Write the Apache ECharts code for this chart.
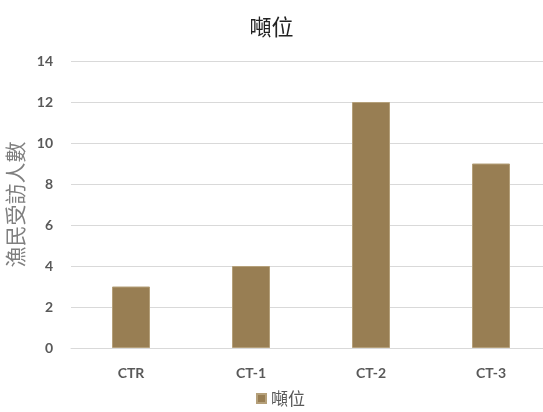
<!DOCTYPE html>
<html>
<head>
<meta charset="utf-8">
<script src="https://cdn.jsdelivr.net/npm/echarts@6/dist/echarts.min.js"></script>
<style>
  html, body { margin: 0; padding: 0; background: #fff; }
  #chart { width: 543px; height: 412px; }
</style>
</head>
<body>
<div id="chart"></div>
<script>
// Survey counts by tonnage class
const categories = ['CTR', 'CT-1', 'CT-2', 'CT-3'];
const counts = [3, 4, 12, 9];
const seriesName = '噸位';
const yTicks = { min: 0, max: 14, interval: 2 };

const chart = echarts.init(document.getElementById('chart'));
chart.setOption({
  animation: false,
  title: {
    text: '噸位',
    left: 'center',
    top: 11,
    textStyle: { fontFamily: 'Noto Sans CJK TC', fontSize: 22, fontWeight: 'normal', color: '#222' }
  },
  legend: {
    bottom: 0,
    left: 251,
    itemWidth: 9,
    itemHeight: 9,
    itemGap: 6,
    icon: 'rect',
    textStyle: { fontFamily: 'Noto Sans CJK TC', fontSize: 17, color: '#595959' },
    data: [seriesName]
  },
  grid: { left: 71, top: 61, width: 480, height: 287, outerBoundsMode: 'none' },
  xAxis: {
    type: 'category',
    data: categories,
    axisLine: { show: true, lineStyle: { color: '#d9d9d9' } },
    axisTick: { show: false },
    axisLabel: { margin: 18, fontFamily: 'Lato', fontWeight: 'bold', fontSize: 14, color: '#595959' }
  },
  yAxis: {
    type: 'value',
    min: yTicks.min,
    max: yTicks.max,
    interval: yTicks.interval,
    name: '漁民受訪人數',
    nameLocation: 'middle',
    nameRotate: 90,
    nameGap: 35,
    nameTextStyle: { fontFamily: 'Noto Sans CJK TC', fontSize: 21, color: '#7f7f7f' },
    axisLine: { show: false },
    axisTick: { show: false },
    splitLine: { lineStyle: { color: '#d9d9d9' } },
    axisLabel: { margin: 18, fontFamily: 'Lato', fontWeight: 'bold', fontSize: 14, color: '#595959' }
  },
  series: [{
    name: seriesName,
    type: 'bar',
    data: counts,
    barWidth: 38,
    itemStyle: { color: '#987e53', borderColor: '#b5a07a', borderWidth: 1 }
  }]
});
</script>
</body>
</html>
